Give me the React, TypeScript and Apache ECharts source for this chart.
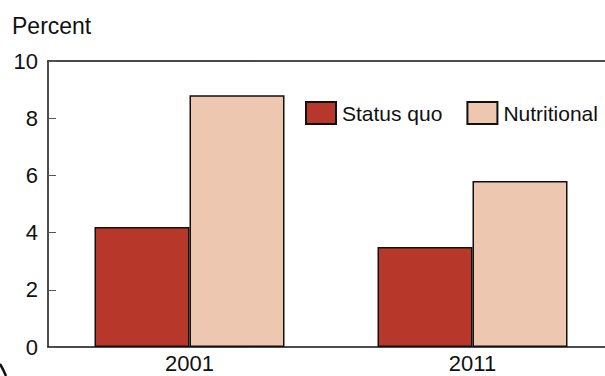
import React, { useEffect, useRef } from "react";
import * as echarts from "echarts";

const categories = ["2001", "2011"];
const statusQuo = [4.2, 3.5];
const nutritional = [8.8, 5.8];
const seriesNames = ["Status quo", "Nutritional"];
const yTicks = { min: 0, max: 10, interval: 2 };

const FONT = "Liberation Sans, Arial, sans-serif";
const RED = "#B7382A";
const PEACH = "#EEC7B1";

export default function App() {
  const ref = useRef<HTMLDivElement>(null);

  useEffect(() => {
    document.body.style.margin = "0";
    document.body.style.overflow = "hidden";
    if (!ref.current) return;
    const chart = echarts.init(ref.current, undefined, { renderer: "svg" });
    chart.setOption({
      animation: false,
      backgroundColor: "#ffffff",
      textStyle: { fontFamily: FONT },
      title: {
        text: "Percent",
        left: 7,
        top: 9,
        textStyle: { fontFamily: FONT, fontSize: 23, fontWeight: "normal", color: "#111" },
      },
      legend: {
        left: 305,
        top: 101,
        width: 400,
        padding: 0,
        orient: "horizontal",
        itemWidth: 30,
        itemHeight: 22,
        itemGap: 24,
        icon: "rect",
        data: seriesNames,
        textStyle: { fontFamily: FONT, fontSize: 21, color: "#111", padding: [0, 0, 0, 1] },
      },
      // the plot runs slightly past the visible right edge
      grid: { left: 48, top: 61, bottom: 29, right: 0, containLabel: false },
      xAxis: [
        {
          type: "category",
          data: categories,
          axisLine: { lineStyle: { color: "#111", width: 1.5 } },
          axisTick: { alignWithLabel: true, length: 6, lineStyle: { color: "#333" } },
          axisLabel: { fontFamily: FONT, fontSize: 22, color: "#111", margin: 5 },
        },
        {
          type: "category",
          data: categories,
          position: "top",
          axisLine: { lineStyle: { color: "#111", width: 1.5 } },
          axisTick: { show: false },
          axisLabel: { show: false },
        },
      ],
      yAxis: {
        type: "value",
        min: yTicks.min,
        max: yTicks.max,
        interval: yTicks.interval,
        axisLine: { show: true, lineStyle: { color: "#111", width: 1.5 } },
        axisTick: { show: true, inside: true, length: 8, lineStyle: { color: "#555" } },
        splitLine: { show: false },
        axisLabel: { fontFamily: FONT, fontSize: 22, color: "#111", margin: 10 },
      },
      series: [
        {
          name: seriesNames[0],
          type: "bar",
          data: statusQuo,
          barWidth: 95,
          barGap: "0%",
          itemStyle: { color: RED, borderColor: "#111", borderWidth: 1.5 },
        },
        {
          name: seriesNames[1],
          type: "bar",
          data: nutritional,
          barWidth: 95,
          barGap: "0%",
          itemStyle: { color: PEACH, borderColor: "#111", borderWidth: 1.5 },
        },
      ],
      graphic: [
        {
          type: "bezierCurve",
          shape: { x1: 0, y1: 364, cpx1: 3, cpy1: 369, x2: 6, y2: 376 },
          style: { stroke: "#111", lineWidth: 2.5, fill: "none" },
        },
      ],
    });
    return () => chart.dispose();
  }, []);

  return <div ref={ref} style={{ width: 614, height: 376 }} />;
}
